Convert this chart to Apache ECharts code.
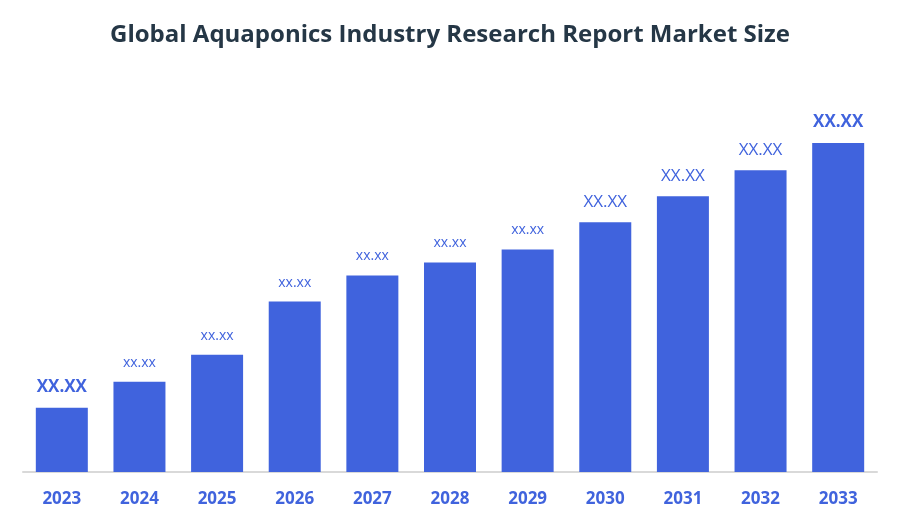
<!DOCTYPE html><html><head><meta charset="utf-8"><script src="https://cdn.jsdelivr.net/npm/echarts@6/dist/echarts.min.js"></script></head><body style="margin:0"><div id="c" style="width:900px;height:525px"></div><script>
const categories=['2023','2024','2025','2026','2027','2028','2029','2030','2031','2032','2033'];
const values=[64,90,117,170,196,209,222,249,275,301,328];
const labels=['XX.XX','xx.xx','xx.xx','xx.xx','xx.xx','xx.xx','xx.xx','XX.XX','XX.XX','XX.XX','XX.XX'];
const labelStyles=['big','small','small','small','small','small','small','mid','mid','mid','big'];
const color='#4063DD';
const chart=echarts.init(document.getElementById('c'));
chart.setOption({
title:{text:'Global Aquaponics Industry Research Report Market Size',left:'center',top:18,textStyle:{fontFamily:'Open Sans',fontSize:24,fontWeight:'bold',color:'#253746'}},
grid:{left:23,right:23,top:100,bottom:53},
xAxis:{type:'category',data:categories,axisTick:{show:false},axisLine:{lineStyle:{color:'#d9d9d9',width:2}},axisLabel:{margin:19,fontFamily:'Open Sans',fontSize:17,fontWeight:'bold',color:color}},
yAxis:{type:'value',min:0,max:328/(471-143)*(471-100),show:false,splitLine:{show:false}},
series:[{type:'bar',barWidth:52,data:values.map((v,i)=>({value:v,label:{formatter:'{'+labelStyles[i]+'|'+labels[i]+'}'}})),itemStyle:{color:color},
label:{show:true,position:'top',distance:12,rich:{big:{fontFamily:'Open Sans',fontSize:17,fontWeight:'bold',color:color},mid:{fontFamily:'Open Sans',fontSize:17,color:color},small:{fontFamily:'Open Sans',fontSize:14,color:color}}}}]
});
</script></body></html>
